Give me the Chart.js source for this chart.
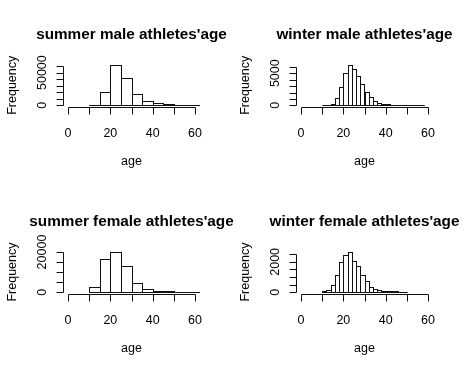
<!DOCTYPE html>
<html><head><meta charset="utf-8">
<script src="https://cdn.jsdelivr.net/npm/chart.js@4/dist/chart.umd.min.js"></script>
<style>
html,body{margin:0;padding:0;background:#fff;}
#wrap{position:relative;width:466px;height:373px;overflow:hidden;background:#fff;}
canvas{position:absolute;}
</style></head><body>
<div id="wrap">
<canvas id="c1" width="233" height="186" style="left:0px;top:0px"></canvas>
<canvas id="c2" width="233" height="186" style="left:233px;top:0px"></canvas>
<canvas id="c3" width="233" height="187" style="left:0px;top:186px"></canvas>
<canvas id="c4" width="233" height="187" style="left:233px;top:186px"></canvas>
</div>
<script>
// ---- data ----
const xTicks = [0, 10, 20, 30, 40, 50, 60];
const xTickLabels = [0, 20, 40, 60];
const xLimits = [0, 60];
const xAxisTitle = "age";
const yAxisTitle = "Frequency";

const summerBinStarts = [10, 15, 20, 25, 30, 35, 40, 45, 50, 55, 60];
const summerBinWidth = 5;
const winterMaleBinStarts = [10, 12, 14, 16, 18, 20, 22, 24, 26, 28, 30, 32, 34, 36, 38, 40, 42, 44, 46, 48, 50, 52, 54, 56];
const winterFemaleBinStarts = [10, 12, 14, 16, 18, 20, 22, 24, 26, 28, 30, 32, 34, 36, 38, 40, 42, 44, 46, 48];
const winterBinWidth = 2;

const summerMaleCounts = [1000, 20700, 61500, 41400, 16900, 6800, 3500, 2000, 1000, 700, 400];
const winterMaleCounts = [40, 100, 258, 1120, 2910, 5100, 6260, 5620, 4640, 3300, 2100, 1300, 730, 410, 255, 160, 110, 90, 70, 60, 50, 40, 30, 20];
const summerFemaleCounts = [2750, 16500, 20200, 13000, 4750, 1500, 850, 500, 380, 250, 200];
const winterFemaleCounts = [65, 150, 470, 1150, 1970, 2460, 2670, 2070, 1750, 1110, 730, 360, 210, 150, 107, 85, 65, 60, 45, 20];

const summerMaleYTicks = [0, 10000, 20000, 30000, 40000, 50000, 60000];
const summerMaleYLabels = [0, 50000];
const winterMaleYTicks = [0, 1000, 2000, 3000, 4000, 5000, 6000];
const winterMaleYLabels = [0, 5000];
const summerFemaleYTicks = [0, 5000, 10000, 15000, 20000];
const summerFemaleYLabels = [0, 20000];
const winterFemaleYTicks = [0, 500, 1000, 1500, 2000, 2500];
const winterFemaleYLabels = [0, 2000];

const titles = ["summer male athletes'age", "winter male athletes'age", "summer female athletes'age", "winter female athletes'age"];

// ---- drawing ----
const FONT = '"Liberation Sans", Arial, Helvetica, sans-serif';

function makeRPlugin(cfg) {
  return {
    id: 'rStyle',
    afterDatasetsDraw(chart) {
      const ctx = chart.ctx, a = chart.chartArea;
      ctx.save();
      ctx.beginPath();
      ctx.rect(a.left, a.top, a.right - a.left, a.bottom - a.top);
      ctx.clip();
      ctx.strokeStyle = '#111';
      ctx.lineWidth = 1;
      const meta = chart.getDatasetMeta(0);
      meta.data.forEach(bar => {
        const p = bar.getProps(['x', 'y', 'width', 'base'], true);
        const l = Math.round(p.x - p.width / 2) + 0.5;
        const r = Math.round(p.x + p.width / 2) + 0.5;
        const t = Math.round(p.y) + 0.5;
        const b = Math.round(p.base) + 0.5;
        ctx.strokeRect(l, t, r - l, b - t);
      });
      ctx.restore();
    },
    afterDraw(chart) {
      const ctx = chart.ctx, a = chart.chartArea, xs = chart.scales.x, ys = chart.scales.y;
      ctx.save();
      ctx.strokeStyle = '#111';
      ctx.fillStyle = '#000';
      ctx.lineWidth = 1;
      const cx = (a.left + a.right) / 2;
      // main title
      ctx.font = 'bold 15.3px ' + FONT;
      ctx.textAlign = 'center';
      ctx.textBaseline = 'alphabetic';
      ctx.fillText(cfg.title, cx, a.top - 24.5);
      // x axis
      const yb = Math.round(a.bottom) + 0.5;
      ctx.beginPath();
      ctx.moveTo(Math.round(xs.getPixelForValue(xTicks[0])) + 0.5, yb);
      ctx.lineTo(Math.round(xs.getPixelForValue(xTicks[xTicks.length - 1])) + 0.5, yb);
      xTicks.forEach(v => {
        const px = Math.round(xs.getPixelForValue(v)) + 0.5;
        ctx.moveTo(px, yb);
        ctx.lineTo(px, yb + 7);
      });
      // y axis
      const xl = Math.round(a.left) + 0.5;
      const yt = cfg.yTicks;
      ctx.moveTo(xl, Math.round(ys.getPixelForValue(yt[0])) + 0.5);
      ctx.lineTo(xl, Math.round(ys.getPixelForValue(yt[yt.length - 1])) + 0.5);
      yt.forEach(v => {
        const py = Math.round(ys.getPixelForValue(v)) + 0.5;
        ctx.moveTo(xl, py);
        ctx.lineTo(xl - 7, py);
      });
      ctx.stroke();
      // tick labels
      ctx.font = '12.5px ' + FONT;
      ctx.textAlign = 'center';
      xTickLabels.forEach(v => {
        ctx.fillText(String(v), xs.getPixelForValue(v), a.bottom + 29.5);
      });
      cfg.yLabels.forEach(v => {
        ctx.save();
        ctx.translate(a.left - 17.5, ys.getPixelForValue(v));
        ctx.rotate(-Math.PI / 2);
        ctx.fillText(String(v), 0, 0);
        ctx.restore();
      });
      // axis titles
      ctx.fillText(xAxisTitle, cx, a.bottom + 58);
      ctx.save();
      ctx.translate(a.left - 47.5, (a.top + a.bottom) / 2);
      ctx.rotate(-Math.PI / 2);
      ctx.fillText(yAxisTitle, 0, 0);
      ctx.restore();
      ctx.restore();
    }
  };
}

function makeChart(id, cfg) {
  const maxCount = Math.max(...cfg.counts);
  const points = cfg.starts.map((s, i) => ({ x: s + cfg.width / 2, y: cfg.counts[i] }));
  const span = xLimits[1] - xLimits[0];
  const canvas = document.getElementById(id);
  new Chart(canvas, {
    type: 'bar',
    data: {
      datasets: [{
        data: points,
        backgroundColor: '#ffffff',
        borderWidth: 0,
        barPercentage: 1,
        categoryPercentage: 1
      }]
    },
    options: {
      responsive: false,
      animation: false,
      devicePixelRatio: 1,
      events: [],
      layout: { padding: { left: 63, right: 33, top: cfg.top, bottom: canvas.height - cfg.bottom } },
      plugins: { legend: { display: false }, tooltip: { enabled: false }, title: { display: false } },
      scales: {
        x: {
          type: 'linear', display: false, offset: false,
          min: xLimits[0] - 0.04 * span, max: xLimits[1] + 0.04 * span,
          afterBuildTicks: s => { s.ticks = xTicks.map(v => ({ value: v })); }
        },
        y: {
          type: 'linear', display: false,
          min: -0.04 * maxCount, max: 1.04 * maxCount,
          afterBuildTicks: s => { s.ticks = cfg.yTicks.map(v => ({ value: v })); }
        }
      }
    },
    plugins: [makeRPlugin(cfg)]
  });
}

makeChart('c1', { title: titles[0], starts: summerBinStarts, width: summerBinWidth, counts: summerMaleCounts, yTicks: summerMaleYTicks, yLabels: summerMaleYLabels, top: 63.5, bottom: 107 });
makeChart('c2', { title: titles[1], starts: winterMaleBinStarts, width: winterBinWidth, counts: winterMaleCounts, yTicks: winterMaleYTicks, yLabels: winterMaleYLabels, top: 63.5, bottom: 107 });
makeChart('c3', { title: titles[2], starts: summerBinStarts, width: summerBinWidth, counts: summerFemaleCounts, yTicks: summerFemaleYTicks, yLabels: summerFemaleYLabels, top: 64, bottom: 108 });
makeChart('c4', { title: titles[3], starts: winterFemaleBinStarts, width: winterBinWidth, counts: winterFemaleCounts, yTicks: winterFemaleYTicks, yLabels: winterFemaleYLabels, top: 64, bottom: 108 });
</script>
</body></html>
